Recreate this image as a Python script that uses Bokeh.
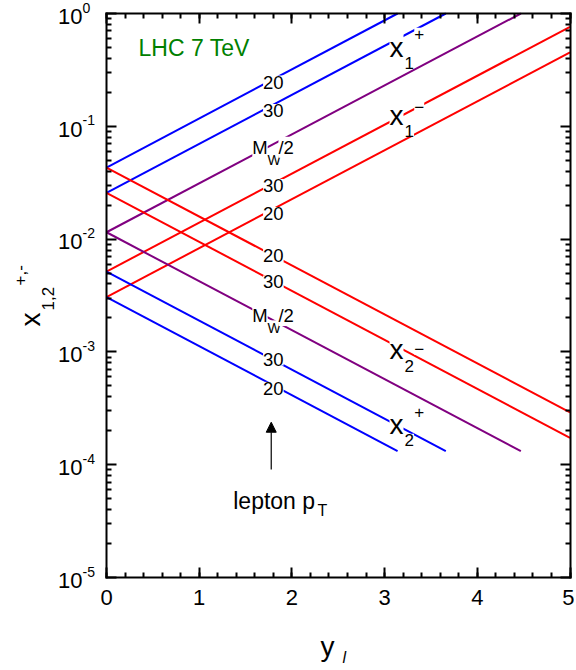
import math
from bokeh.plotting import figure
from bokeh.models import (Label, Arrow, NormalHead, LogAxis, LinearAxis,
                          FixedTicker, CustomJSTickFormatter, Range1d)
from bokeh.embed import file_html
from bokeh.resources import INLINE

# ---------------- data ----------------
# Lines rising with y_l  (x1+ blue, M_W/2 purple, x1- red)
up_labels = ["20", "30", "M_W/2", "30", "20"]
up_x_start = [0.0431, 0.0257, 0.0115, 0.00515, 0.00306]   # x at y_l = 0
up_y_end = [3.14, 3.66, 4.47, 5.0, 5.0]                      # y_l at end
up_x_end = [1.0, 1.0, 1.0, 0.762, 0.452]                     # x at end

# Lines falling with y_l  (x2- red, M_W/2 purple, x2+ blue)
down_labels = ["20", "30", "M_W/2", "30", "20"]
down_x_start = [0.0431, 0.0257, 0.0115, 0.00515, 0.00306]
down_y_end = [5.0, 5.0, 4.47, 3.66, 3.14]
down_x_end = [0.000291, 0.000173, 0.000132, 0.000132, 0.000132]

x_ticks = [0, 1, 2, 3, 4, 5]
y_decades = [-5, -4, -3, -2, -1, 0]

# ---------------- styling ----------------
FONT = "Liberation Sans"
up_colors = ["#0000ff", "#0000ff", "#800080", "#ff0000", "#ff0000"]
down_colors = ["#ff0000", "#ff0000", "#800080", "#0000ff", "#0000ff"]

# The frame fills the canvas; the visible box (y_l 0..5, x 1e-5..1) is drawn
# by axes fixed at its edges so that tick labels and titles fit inside.
p = figure(width=574, height=668,
           x_range=Range1d(-1.1435, 5.0485), y_range=Range1d(1.5606e-6, 1.3039),
           y_axis_type="log", output_backend="svg", toolbar_location=None,
           min_border=0, min_border_left=0, min_border_right=0,
           min_border_top=0, min_border_bottom=0)
p.background_fill_color = "white"
p.border_fill_color = "white"
p.outline_line_color = None
p.xgrid.visible = False
p.ygrid.visible = False

xt = FixedTicker(ticks=x_ticks,
                 minor_ticks=[i * 0.2 for i in range(26)])
yt = FixedTicker(ticks=[10.0 ** k for k in y_decades],
                 minor_ticks=[m * 10.0 ** k for k in y_decades[:-1] for m in range(2, 10)])


def style_axis(ax, show_labels):
    ax.axis_line_width = 2
    ax.axis_line_color = "black"
    ax.axis_line_cap = "square"
    ax.major_tick_in = 10
    ax.major_tick_out = 0
    ax.minor_tick_in = 5
    ax.minor_tick_out = 0
    ax.major_tick_line_width = 2
    ax.minor_tick_line_width = 2
    ax.major_tick_line_color = "black"
    ax.minor_tick_line_color = "black"
    if show_labels:
        ax.major_label_text_font = FONT
        ax.major_label_text_font_size = "22px"
        ax.major_label_text_color = "black"
        ax.major_label_standoff = 12
    else:
        ax.formatter = CustomJSTickFormatter(code="return ''")
        ax.major_label_standoff = 0


xa = p.xaxis[0]
ya = p.yaxis[0]
xa.ticker = xt
ya.ticker = yt
xa.bounds = (0, 5)
ya.bounds = (1e-5, 1)
xa.fixed_location = 1e-5
ya.fixed_location = 0
style_axis(xa, True)
style_axis(ya, False)

top = LinearAxis(ticker=xt, bounds=(0, 5), fixed_location=1.0)
style_axis(top, False)
p.add_layout(top, "above")
right = LogAxis(ticker=yt, bounds=(1e-5, 1), fixed_location=5.0)
style_axis(right, False)
p.add_layout(right, "right")

# ---------------- lines ----------------
for x0, ye, xe, c in zip(up_x_start, up_y_end, up_x_end, up_colors):
    p.line([0.0, ye], [x0, xe], line_color=c, line_width=2)
for x0, ye, xe, c in zip(down_x_start, down_y_end, down_x_end, down_colors):
    p.line([0.0, ye], [x0, xe], line_color=c, line_width=2)

SHIFT = 0.28  # baseline correction (em) for alphabetic labels


def lab(x, y, text, size, color="black", align="left", baseline="alphabetic",
        xo=0, yo=0, angle=0, bg=None, style="normal"):
    if baseline == "alphabetic":
        if angle:
            xo -= SHIFT * size
        else:
            yo += SHIFT * size
    p.add_layout(Label(x=x, y=y, text=text, text_font=FONT,
                       text_font_size=f"{size}px", text_color=color,
                       text_align=align, text_baseline=baseline,
                       x_offset=xo, y_offset=yo, angle=angle,
                       text_font_style=style,
                       background_fill_color=bg))


# ---------------- line labels ----------------
lbl_x = 1.80
up_lbl_y = [0.247, 0.138, 0.0653, 0.0299, 0.01687]
down_lbl_y = [0.00716, 0.00417, 0.00210, 0.000865, 0.000475]
for t, yv in zip(up_labels + down_labels, up_lbl_y + down_lbl_y):
    if t.startswith("M"):
        lab(1.656, yv, "M", 18.5, align="center", baseline="middle", bg="white")
        lab(1.737, yv * 0.77, "W", 14, align="left", baseline="middle", bg="white")
        lab(1.855, yv, "/2", 18.5, align="left", baseline="middle", bg="white")
    else:
        lab(lbl_x, yv, t, 18.5, align="center", baseline="middle", bg="white")

# ---------------- x-labels in the plot ----------------
# (baseline, sub baseline, sup baseline, sub, sup)
big = [
    (0.4249, 0.332, 0.600, "1", "+"),
    (0.1059, 0.0828, 0.134, "1", "\u2212"),
    (8.91e-4, 6.84e-4, 9.68e-4, "2", "\u2212"),
    (1.93e-4, 1.51e-4, 2.67e-4, "2", "+"),
]
for yb, ysub, ysup, sub, sup in big:
    lab(3.053, yb, "x", 28, bg="white")
    lab(3.215, ysub, sub, 17, bg="white")
    lab(3.32, ysup, sup, 17, bg="white")

lab(0.345, 0.4335, "LHC 7 TeV", 23, color="#008000")

# lepton pT arrow and text
p.add_layout(Arrow(end=NormalHead(size=10, fill_color="black", line_color="black"),
                   x_start=1.777, y_start=9.06e-5, x_end=1.777, y_end=2.38e-4,
                   line_width=1.2, line_color="black"))
lab(1.367, 4.2e-5, "lepton p", 23)
lab(2.276, 3.55e-5, "T", 16)

# ---------------- y tick labels ----------------
for k in y_decades:
    lab(0, 10.0 ** k, "10", 22, align="right", xo=-24, yo=-9)
    lab(0, 10.0 ** k, str(k), 14, align="left", xo=-24, yo=2)

# ---------------- axis titles ----------------
lab(2.308, 2.08e-6, "y", 28)
lab(2.546, 1.59e-6, "l", 16, style="italic", yo=6)

lab(-0.7335, 1.68e-3, "x", 28, angle=math.pi / 2)
lab(-0.5825, 2.33e-3, "1,2", 17, angle=math.pi / 2)
lab(-0.8846, 3.88e-3, "+,-", 17, angle=math.pi / 2)

open("out.html", "w").write(file_html(p, INLINE))
